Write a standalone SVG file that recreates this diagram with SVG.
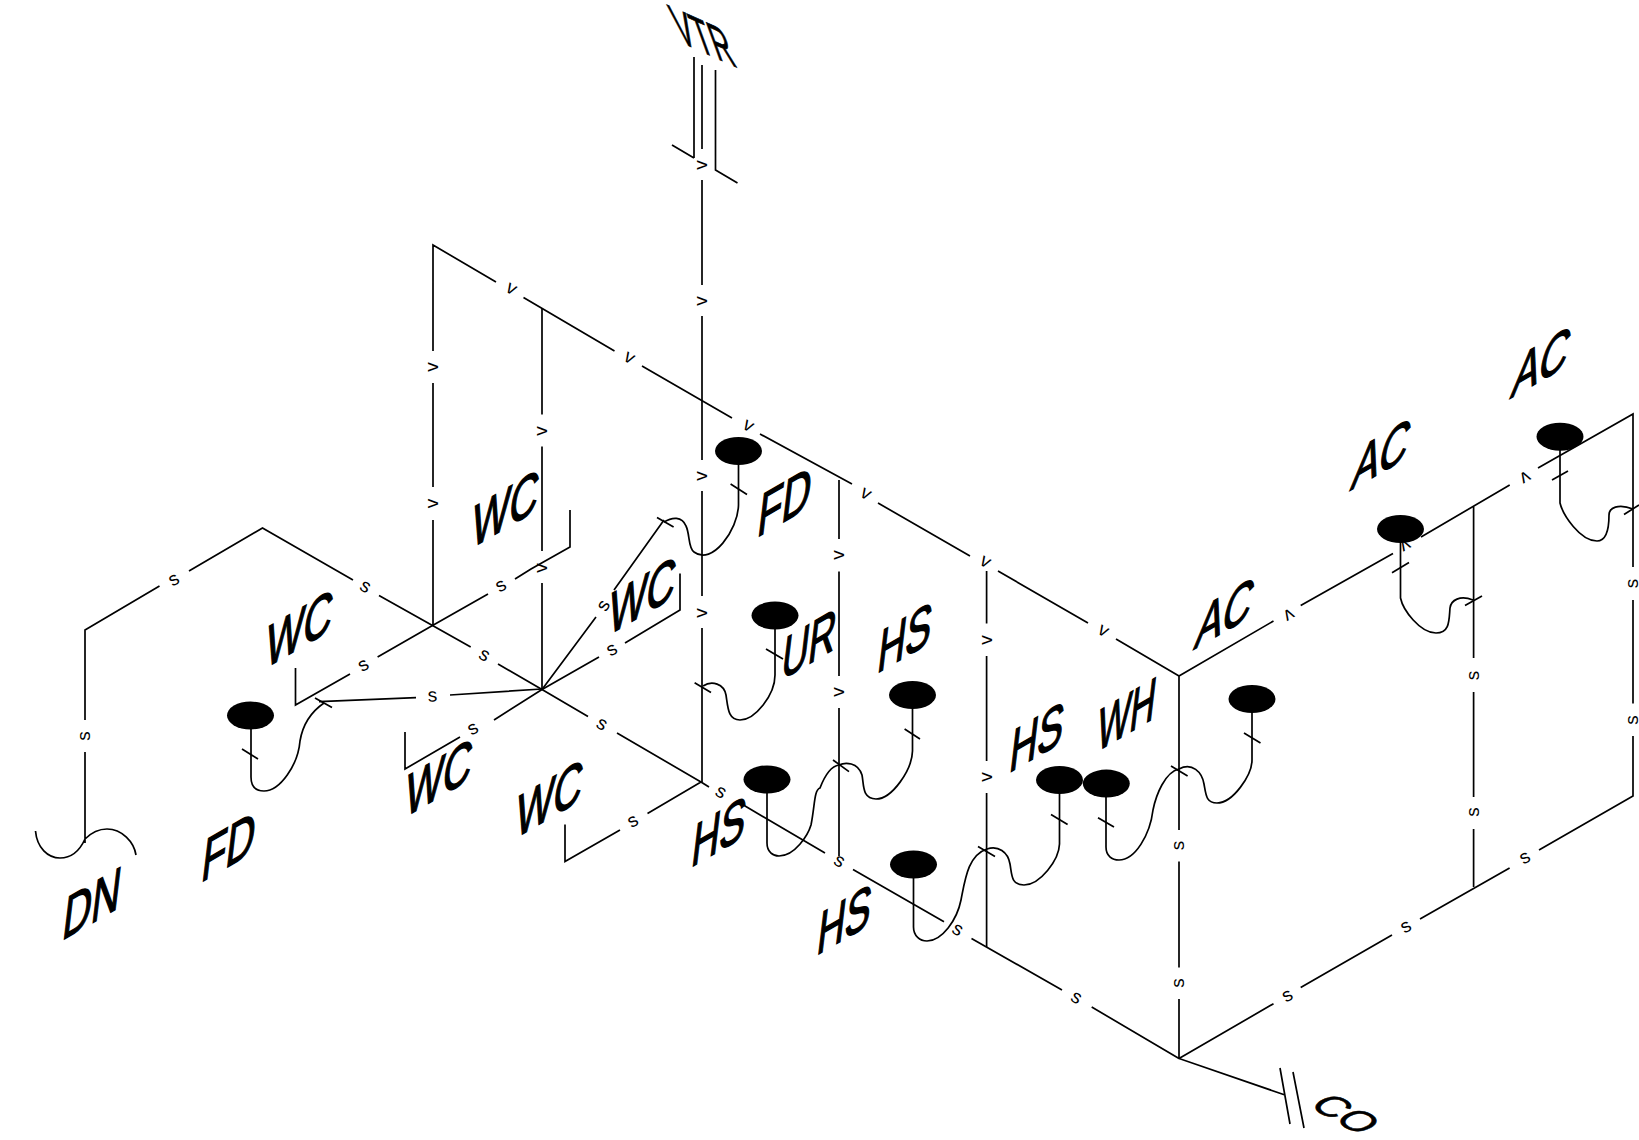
<svg xmlns="http://www.w3.org/2000/svg" width="1639" height="1140" viewBox="0 0 1639 1140">
<style>
.p{fill:none;stroke:#000;stroke-width:1.7}
.b{fill:#000}
.s{font-family:"Liberation Sans",Arial,sans-serif;font-size:19px;fill:#000;text-anchor:middle;dominant-baseline:middle}
.l{font-family:"Liberation Sans",Arial,sans-serif;font-size:62px;fill:#000;stroke:#000;stroke-width:1.5}
</style>
<rect width="1639" height="1140" fill="#fff"/>
<g id="connectors" class="p">
<path d="M694,57V158M672,145L694,158M702,65V149M715.5,70V170L737.5,183"/>
<path d="M702,180V285M702,316V460M702,491V596M702,628V782"/>
<path d="M433,351V245L496,282M523.5,297.5L614.5,351M642,366L732,418M760,434L852,484M878,503L970,556M998,571L1088,623M1116,639L1179,676"/>
<path d="M1179,676L1273.5,621M1300.7,605.5L1393,553.5M1421,537L1509.7,485M1538,468L1633,414V567M1633,600V703.6M1633,736V796L1539,850M1509.6,868L1420,919M1392,935L1300.7,987.6M1273.5,1003.7L1179,1058.5"/>
<path d="M1473.6,506.5V658M1473.6,692V797M1473.6,829V887"/>
<path d="M1179,676V830M1179,861.5V967.6M1179,999V1058.5L1285,1095M1280,1068L1290,1124M1293,1072L1304,1128"/>
<path d="M1179,1058.5L1091.7,1007M1062,990L971.5,938.5M944,921.7L853,869.6M825,853L737.5,801.6"/>
<path d="M839,480V539M839,571.6V676M839,708V856M986.6,571V623.6M986.6,656V761M986.6,793V947"/>
<path d="M433,383V487M433,520V625.6M542,308V414.5M542,446.5V551M542,583V689.5"/>
<path d="M570,510V547L531,569L515,579M488,594L432.5,625.6"/>
<path d="M85,720V630L159.5,586M189,571L262.5,528L353,580M379,595.5L432.5,625.6L470.7,647M498,664L542,689.5L588,716.5M617,733L701,782L647.5,813.6M620,830L565,861.6V824.5"/>
<path d="M432.5,625.6L377.6,657M350,674L295.5,705V668"/>
<path d="M542,689L450,695M416,697.6L319,701.6"/>
<path d="M542,689.5L494,720M460,737L405,769V732"/>
<path d="M542,689.5L599,657M625,643L680,610V573.6"/>
<path d="M542,689.5L596,617M614,590L664,520"/>
<path d="M85,752V843M35.5,831C37,848 48,858 60,858C72,858 80,850 85,839C92,832 98,829 107,829C122,829 134,842 136,855"/>
<path d="M701,782L709,787"/>
<path d="M324,703C305,716 301,735 300,741C298,765 280,791 264,791C254,791 251,785 251,777V729"/>
<path d="M664,522C672,517 682,516 686,526C690,534 688,548 694,552C712,566 738,530 738.5,505V451"/>
<path d="M703,686C712,680 724,684 726,695C728,708 728,720 740,720C755,720 775,695 775,675V615"/>
<path d="M767,779V843C767,852 773,856 779,856C795,856 808,835 811,825C815,805 814,790 820,788C825,775 832,766 839,765C845,762 858,762 862,775C864,785 862,799 876,799C892,799 912,770 912.5,751V695"/>
<path d="M913.5,864V927C913.5,936 920,941 927,941C942,941 957,920 961,900C965,880 968,855 987,849C998,845 1008,852 1010,864C1012,875 1011,885 1024,885C1040,885 1059,860 1059.5,844V780"/>
<path d="M1106,784V847C1106,856 1112,860 1119,860C1135,860 1150,835 1153,810C1156,795 1165,772 1179,769C1192,762 1202,772 1204,784C1206,795 1206,803 1217,803C1233,803 1252,775 1252,760V699"/>
<path d="M1400.5,529V598C1403,610 1420,633 1436,633C1450,633 1449,620 1450,608C1451,600 1460,595 1473,600"/>
<path d="M1560,437V503C1563,515 1580,541 1597,541C1608,541 1609,525 1609,515C1609,508 1618,503 1633,509"/>
<path d="M315,698L332,707.5M242,749L258,759M657,517.5L673.6,527M730.6,484L747,494.5M694.6,682.7L711,692.5M766,649L783,659M833,760L849,771.6M904.6,729L920,739M978,846.5L995,856.5M1051,814.4L1067.6,824.4M1098,817.7L1114,827M1244,733L1260.5,743M1171,766L1187.6,776M1465,605.5L1482,596M1392,572.7L1409,562.5M1624,514.5L1639,505M1552,480L1568,471"/>
<g stroke="none">
<text class="s" transform="translate(702,165) rotate(-90)">v</text>
<text class="s" transform="translate(702,301) rotate(-90)">v</text>
<text class="s" transform="translate(702,476) rotate(-90)">v</text>
<text class="s" transform="translate(702,613) rotate(-90)">v</text>
<text class="s" transform="translate(433,367) rotate(-90)">v</text>
<text class="s" transform="translate(433,503.6) rotate(-90)">v</text>
<text class="s" transform="translate(542,431) rotate(-90)">v</text>
<text class="s" transform="translate(542,568) rotate(-90)">v</text>
<text class="s" transform="translate(839,555) rotate(-90)">v</text>
<text class="s" transform="translate(839,692) rotate(-90)">v</text>
<text class="s" transform="translate(986.6,640) rotate(-90)">v</text>
<text class="s" transform="translate(986.6,777) rotate(-90)">v</text>
<text class="s" transform="translate(511,289) rotate(30)">v</text>
<text class="s" transform="translate(629,358) rotate(30)">v</text>
<text class="s" transform="translate(748,426) rotate(30)">v</text>
<text class="s" transform="translate(865.5,494) rotate(30)">v</text>
<text class="s" transform="translate(985,562) rotate(30)">v</text>
<text class="s" transform="translate(1103,631) rotate(30)">v</text>
<text class="s" transform="translate(1288.6,614.5) rotate(150)">v</text>
<text class="s" transform="translate(1405,545) rotate(150)">v</text>
<text class="s" transform="translate(1525,477) rotate(150)">v</text>
<text class="s" transform="translate(85,736) rotate(-90)">s</text>
<text class="s" transform="translate(174,580) rotate(-30)">s</text>
<text class="s" transform="translate(365,587) rotate(30)">s</text>
<text class="s" transform="translate(484,655.5) rotate(30)">s</text>
<text class="s" transform="translate(601.5,724.5) rotate(30)">s</text>
<text class="s" transform="translate(720.7,792.5) rotate(30)">s</text>
<text class="s" transform="translate(839,861.5) rotate(30)">s</text>
<text class="s" transform="translate(957.4,930) rotate(30)">s</text>
<text class="s" transform="translate(1076,998) rotate(30)">s</text>
<text class="s" transform="translate(501,586) rotate(-30)">s</text>
<text class="s" transform="translate(363.5,665.6) rotate(-30)">s</text>
<text class="s" transform="translate(432.5,696.5) rotate(-3)">s</text>
<text class="s" transform="translate(473,729) rotate(-30)">s</text>
<text class="s" transform="translate(633,821.6) rotate(-30)">s</text>
<text class="s" transform="translate(612,650) rotate(-30)">s</text>
<text class="s" transform="translate(604,606) rotate(-60)">s</text>
<text class="s" transform="translate(1179,845.5) rotate(-90)">s</text>
<text class="s" transform="translate(1179,983) rotate(-90)">s</text>
<text class="s" transform="translate(1473.6,675.6) rotate(-90)">s</text>
<text class="s" transform="translate(1473.6,812) rotate(-90)">s</text>
<text class="s" transform="translate(1633,583.6) rotate(-90)">s</text>
<text class="s" transform="translate(1633,720) rotate(-90)">s</text>
<text class="s" transform="translate(1287.6,996) rotate(-30)">s</text>
<text class="s" transform="translate(1406,927) rotate(-30)">s</text>
<text class="s" transform="translate(1525,858) rotate(-30)">s</text>
</g>
</g>
<g id="vtr"><text class="l" transform="matrix(.47,.21,.32,.88,680,42)" style="stroke-width:1">VTR</text></g>
<g id="co"><text class="l" transform="matrix(.56,.32,-.56,.32,1308,1106)" style="stroke-width:1">CO</text></g>
<g id="dn"><text class="l" transform="matrix(.64,-.37,-.12,1,61,941)">DN</text></g>
<g id="wc1"><text class="l" transform="matrix(.64,-.37,-.12,1,470,549)">WC</text></g>
<g id="wc2"><text class="l" transform="matrix(.64,-.37,-.12,1,264,669)">WC</text></g>
<g id="wc3"><text class="l" transform="matrix(.64,-.37,-.12,1,607,636)">WC</text></g>
<g id="wc4"><text class="l" transform="matrix(.64,-.37,-.12,1,403.6,818)">WC</text></g>
<g id="wc5"><text class="l" transform="matrix(.64,-.37,-.12,1,514,839)">WC</text></g>
<g id="fd1"><ellipse class="b" cx="738.5" cy="451" rx="23.5" ry="14"/><text class="l" transform="matrix(.64,-.37,-.12,1,756,538)">FD</text></g>
<g id="fd2"><ellipse class="b" cx="250.5" cy="715.5" rx="23.5" ry="14"/><text class="l" transform="matrix(.64,-.37,-.12,1,200,883)">FD</text></g>
<g id="ur"><ellipse class="b" cx="775" cy="615.5" rx="23.5" ry="14"/><text class="l" transform="matrix(.6,-.35,-.12,1,780,681)">UR</text></g>
<g id="hs1"><ellipse class="b" cx="912.5" cy="695" rx="23.5" ry="14"/><text class="l" transform="matrix(.62,-.36,-.12,1,876,674)">HS</text></g>
<g id="hs2"><ellipse class="b" cx="1059.5" cy="780" rx="23.5" ry="14"/><text class="l" transform="matrix(.62,-.36,-.12,1,1008,773.5)">HS</text></g>
<g id="hs3"><ellipse class="b" cx="767" cy="779.5" rx="23.5" ry="14"/><text class="l" transform="matrix(.62,-.36,-.12,1,690,868)">HS</text></g>
<g id="hs4"><ellipse class="b" cx="913.5" cy="864.5" rx="23.5" ry="14"/><text class="l" transform="matrix(.62,-.36,-.12,1,815.5,956)">HS</text></g>
<g id="wh"><ellipse class="b" cx="1106.3" cy="783.6" rx="23.5" ry="14"/><text class="l" transform="matrix(.56,-.33,-.12,1,1095.6,752.6)">WH</text></g>
<g id="ac1"><ellipse class="b" cx="1252" cy="699" rx="23.5" ry="14"/><text class="l" transform="matrix(.64,-.37,-.22,1,1193,650)">AC</text></g>
<g id="ac2"><ellipse class="b" cx="1400.5" cy="529" rx="23.5" ry="14"/><text class="l" transform="matrix(.64,-.37,-.22,1,1349.6,491)">AC</text></g>
<g id="ac3"><ellipse class="b" cx="1560" cy="436.7" rx="23.5" ry="14"/><text class="l" transform="matrix(.64,-.37,-.22,1,1509.5,399)">AC</text></g>
</svg>
